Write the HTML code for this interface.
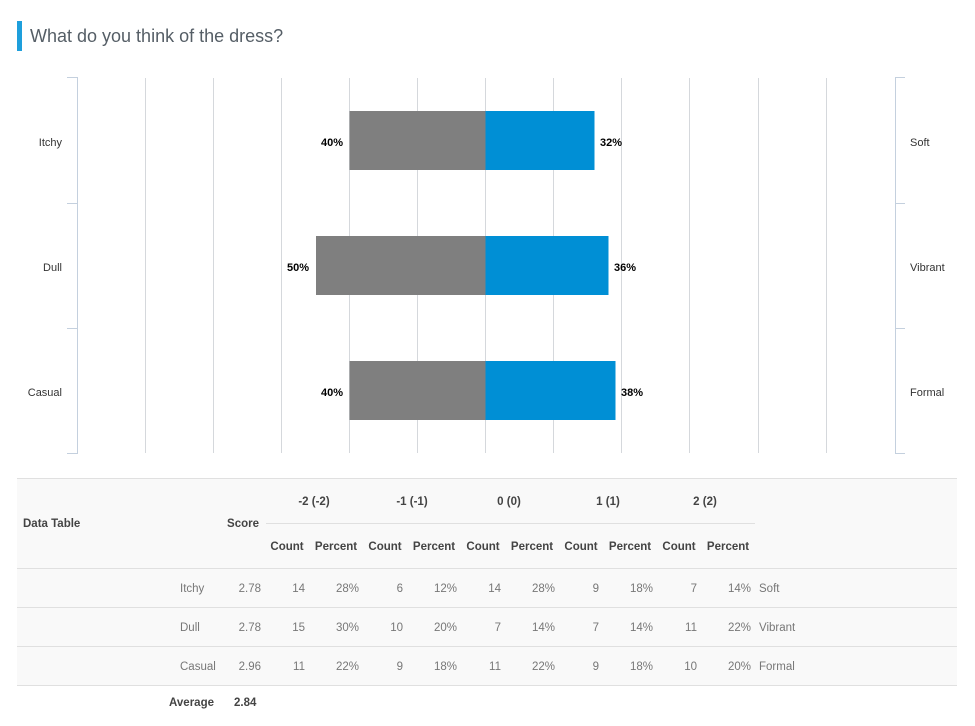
<!DOCTYPE html>
<html><head><meta charset="utf-8"><style>
html,body{margin:0;padding:0;background:#fff;}
svg{display:block;}
.t{font-family:"Liberation Sans",sans-serif;}
</style></head><body>
<svg width="975" height="726" xmlns="http://www.w3.org/2000/svg" class="t">
<rect x="17" y="21" width="5" height="30" fill="#1e9fdc"/>
<text x="30" y="42" font-size="18" fill="#555e66">What do you think of the dress?</text>
<g stroke="#d5d8dc" stroke-width="1">
<line x1="145.5" y1="78" x2="145.5" y2="453"/><line x1="213.5" y1="78" x2="213.5" y2="453"/>
<line x1="281.5" y1="78" x2="281.5" y2="453"/><line x1="349.5" y1="78" x2="349.5" y2="453"/>
<line x1="417.5" y1="78" x2="417.5" y2="453"/><line x1="485.5" y1="78" x2="485.5" y2="453"/>
<line x1="553.5" y1="78" x2="553.5" y2="453"/><line x1="621.5" y1="78" x2="621.5" y2="453"/>
<line x1="689.5" y1="78" x2="689.5" y2="453"/><line x1="758.5" y1="78" x2="758.5" y2="453"/>
<line x1="826.5" y1="78" x2="826.5" y2="453"/>
</g>
<g stroke="#c4d0de" stroke-width="1">
<line x1="77.5" y1="77" x2="77.5" y2="454"/>
<line x1="67" y1="77.5" x2="77" y2="77.5"/><line x1="67" y1="203.5" x2="77" y2="203.5"/>
<line x1="67" y1="328.5" x2="77" y2="328.5"/><line x1="67" y1="453.5" x2="77" y2="453.5"/>
<line x1="895.5" y1="77" x2="895.5" y2="454"/>
<line x1="895" y1="77.5" x2="905" y2="77.5"/><line x1="895" y1="203.5" x2="905" y2="203.5"/>
<line x1="895" y1="328.5" x2="905" y2="328.5"/><line x1="895" y1="453.5" x2="905" y2="453.5"/>
</g>
<rect x="349.5" y="111" width="136" height="59" fill="#7f7f7f"/>
<rect x="485.5" y="111" width="109" height="59" fill="#008fd5"/>
<rect x="316" y="236" width="169.5" height="59" fill="#7f7f7f"/>
<rect x="485.5" y="236" width="123" height="59" fill="#008fd5"/>
<rect x="349.5" y="361" width="136" height="59" fill="#7f7f7f"/>
<rect x="485.5" y="361" width="130" height="59" fill="#008fd5"/>
<g font-size="11" font-weight="bold" fill="#000">
<text x="343" y="146" text-anchor="end">40%</text><text x="600" y="146">32%</text>
<text x="309" y="271" text-anchor="end">50%</text><text x="614" y="271">36%</text>
<text x="343" y="396" text-anchor="end">40%</text><text x="621" y="396">38%</text>
</g>
<g font-size="11" fill="#333">
<text x="62" y="146" text-anchor="end">Itchy</text><text x="62" y="271" text-anchor="end">Dull</text>
<text x="62" y="396" text-anchor="end">Casual</text>
<text x="910" y="146">Soft</text><text x="910" y="271">Vibrant</text><text x="910" y="396">Formal</text>
</g>
<rect x="17" y="478" width="940" height="208" fill="#f9f9f9"/>
<g stroke="#e0e0e0"><line x1="17" y1="478.5" x2="957" y2="478.5"/>
<line x1="17" y1="568.5" x2="957" y2="568.5"/><line x1="17" y1="607.5" x2="957" y2="607.5"/>
<line x1="17" y1="646.5" x2="957" y2="646.5"/><line x1="17" y1="685.5" x2="957" y2="685.5"/>
<line x1="266" y1="523.5" x2="755" y2="523.5"/></g>
<g font-size="11.5" font-weight="bold" fill="#444">
<text x="23" y="527">Data Table</text><text x="259" y="527" text-anchor="end">Score</text>
<text x="314" y="505" text-anchor="middle">-2 (-2)</text><text x="412" y="505" text-anchor="middle">-1 (-1)</text>
<text x="509" y="505" text-anchor="middle">0 (0)</text><text x="608" y="505" text-anchor="middle">1 (1)</text>
<text x="705" y="505" text-anchor="middle">2 (2)</text>
<text x="287" y="550" text-anchor="middle">Count</text><text x="336" y="550" text-anchor="middle">Percent</text>
<text x="385" y="550" text-anchor="middle">Count</text><text x="434" y="550" text-anchor="middle">Percent</text>
<text x="483" y="550" text-anchor="middle">Count</text><text x="532" y="550" text-anchor="middle">Percent</text>
<text x="581" y="550" text-anchor="middle">Count</text><text x="630" y="550" text-anchor="middle">Percent</text>
<text x="679" y="550" text-anchor="middle">Count</text><text x="728" y="550" text-anchor="middle">Percent</text>
<text x="214" y="706" text-anchor="end">Average</text><text x="234" y="706">2.84</text>
</g>
<g font-size="11.5" fill="#777" text-anchor="end">
<text x="261" y="592">2.78</text><text x="305" y="592">14</text><text x="359" y="592">28%</text><text x="403" y="592">6</text><text x="457" y="592">12%</text><text x="501" y="592">14</text><text x="555" y="592">28%</text><text x="599" y="592">9</text><text x="653" y="592">18%</text><text x="697" y="592">7</text><text x="751" y="592">14%</text>
<text x="261" y="631">2.78</text><text x="305" y="631">15</text><text x="359" y="631">30%</text><text x="403" y="631">10</text><text x="457" y="631">20%</text><text x="501" y="631">7</text><text x="555" y="631">14%</text><text x="599" y="631">7</text><text x="653" y="631">14%</text><text x="697" y="631">11</text><text x="751" y="631">22%</text>
<text x="261" y="670">2.96</text><text x="305" y="670">11</text><text x="359" y="670">22%</text><text x="403" y="670">9</text><text x="457" y="670">18%</text><text x="501" y="670">11</text><text x="555" y="670">22%</text><text x="599" y="670">9</text><text x="653" y="670">18%</text><text x="697" y="670">10</text><text x="751" y="670">20%</text>
</g>
<g font-size="11.5" fill="#777">
<text x="180" y="592">Itchy</text><text x="180" y="631">Dull</text><text x="180" y="670">Casual</text>
<text x="759" y="592">Soft</text><text x="759" y="631">Vibrant</text><text x="759" y="670">Formal</text>
</g>
</svg>
</body></html>
